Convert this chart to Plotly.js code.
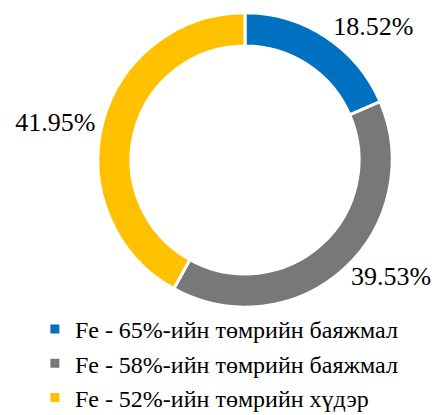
<!DOCTYPE html>
<html>
<head>
<meta charset="utf-8">
<script src="https://cdn.plot.ly/plotly-3.0.1.min.js"></script>
<style>html,body{margin:0;padding:0;background:#fff;}#chart{width:436px;height:415px;}</style>
</head>
<body>
<div id="chart"></div>
<script>
const categories = [
  "Fe - 65%-ийн төмрийн баяжмал",
  "Fe - 58%-ийн төмрийн баяжмал",
  "Fe - 52%-ийн төмрийн хүдэр"
];
const shares = [18.52, 39.53, 41.95];
const colors = ["#0070C0", "#787878", "#FFC000"];
const labelTexts = shares.map(v => v.toFixed(2) + "%");

const serif = "Liberation Serif, Times New Roman, serif";

const trace = {
  type: "pie",
  labels: categories,
  values: shares,
  text: labelTexts,
  textinfo: "text",
  textposition: "outside",
  hole: 0.775,
  sort: false,
  direction: "clockwise",
  rotation: 0,
  automargin: false,
  marker: {colors: colors, line: {color: "#ffffff", width: 3}},
  textfont: {family: serif, size: 26, color: "#000"},
  outsidetextfont: {family: serif, size: 26, color: "#000"},
  domain: {x: [0.224, 0.9], y: [0.26, 0.969]},
  hoverinfo: "none"
};

const layout = {
  width: 436,
  height: 415,
  margin: {l: 0, r: 0, t: 0, b: 0, autoexpand: false},
  paper_bgcolor: "#fff",
  font: {family: serif, color: "#000"},
  showlegend: true,
  legend: {
    x: 0.08, y: -0.012, xanchor: "left", yanchor: "bottom",
    orientation: "v",
    font: {family: serif, size: 24, color: "#000"},
    traceorder: "normal",
    tracegroupgap: 0
  }
};

Plotly.newPlot("chart", [trace], layout, {staticPlot: true});
</script>
</body>
</html>
